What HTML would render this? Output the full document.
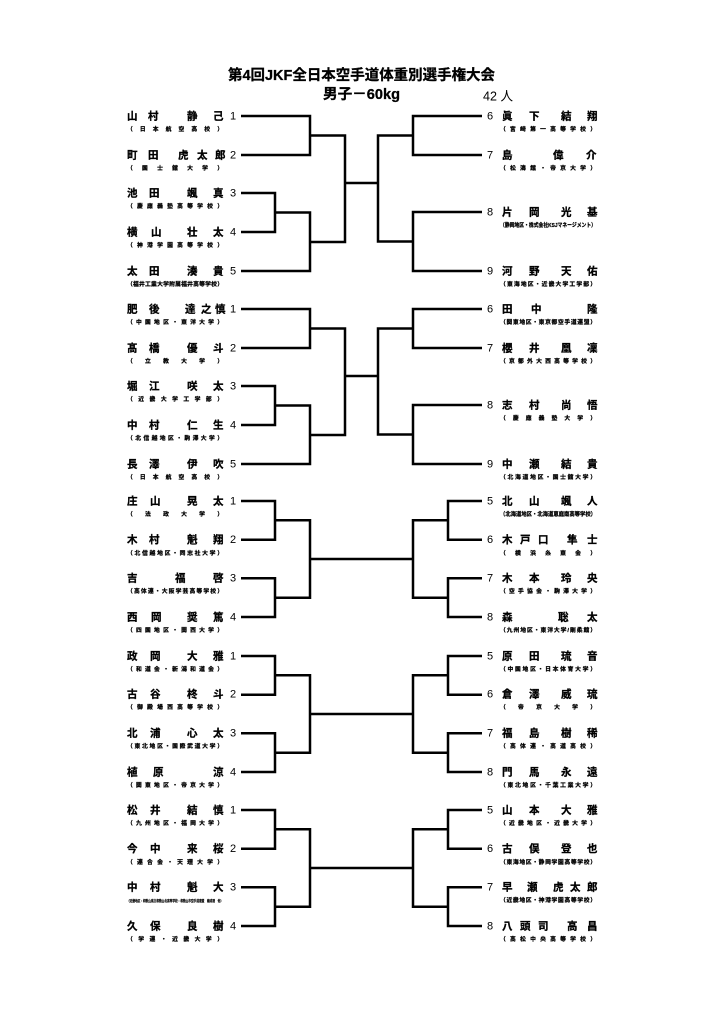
<!DOCTYPE html>
<html lang="ja">
<head>
<meta charset="utf-8">
<style>
html,body{margin:0;padding:0;background:#fff;}
svg{display:block;}
.n{font-family:"Liberation Sans","Noto Sans CJK JP",sans-serif;font-size:10.5px;font-weight:bold;dominant-baseline:central;fill:#000;stroke:#000;stroke-width:0.3;}
.d{font-family:"Liberation Sans",sans-serif;font-size:11px;dominant-baseline:central;fill:#000;}
.s{font-family:"Liberation Sans","Noto Sans CJK JP",sans-serif;font-size:5.8px;font-weight:bold;dominant-baseline:central;fill:#000;stroke:#000;stroke-width:0.25;}
.t{font-family:"Liberation Sans","Noto Sans CJK JP",sans-serif;font-weight:bold;dominant-baseline:central;fill:#000;}
.ln polyline,.ln line{fill:none;stroke:#000;stroke-width:2.5;stroke-linejoin:miter;}
</style>
</head>
<body>
<svg width="724" height="1024" viewBox="0 0 724 1024" xmlns="http://www.w3.org/2000/svg">
<rect width="724" height="1024" fill="#fff"/>

<!-- Title -->
<text class="t" x="228" y="76" font-size="14.5" style="stroke:#000;stroke-width:0.3" textLength="267" lengthAdjust="spacingAndGlyphs">第4回JKF全日本空手道体重別選手権大会</text>
<text class="t" x="323" y="95" font-size="14.5" style="stroke:#000;stroke-width:0.3" textLength="77" lengthAdjust="spacingAndGlyphs">男子－60kg</text>
<text class="t" x="483" y="96" font-size="13" textLength="30" lengthAdjust="spacingAndGlyphs" style="font-weight:normal">42 人</text>

<!-- Bracket lines: sections 1 & 2 (5 vs 4) -->
<g class="ln">
  <g>
    <polyline points="241,116 310,116 310,155 241,155"/>
    <polyline points="241,193 275,193 275,232 241,232"/>
    <polyline points="275,212.5 310,212.5 310,271 241,271"/>
    <polyline points="310,135.5 345,135.5 345,242 310,242"/>
    <line x1="345" y1="183" x2="378" y2="183"/>
    <polyline points="482,116 413,116 413,155 482,155"/>
    <polyline points="482,212 413,212 413,271 482,271"/>
    <polyline points="413,135.5 378,135.5 378,241.5 413,241.5"/>
  </g>
  <g transform="translate(0,193)">
    <polyline points="241,116 310,116 310,155 241,155"/>
    <polyline points="241,193 275,193 275,232 241,232"/>
    <polyline points="275,212.5 310,212.5 310,271 241,271"/>
    <polyline points="310,135.5 345,135.5 345,242 310,242"/>
    <line x1="345" y1="183" x2="378" y2="183"/>
    <polyline points="482,116 413,116 413,155 482,155"/>
    <polyline points="482,212 413,212 413,271 482,271"/>
    <polyline points="413,135.5 378,135.5 378,241.5 413,241.5"/>
  </g>
  <!-- sections 3,4,5 (4 vs 4) -->
  <g>
    <polyline points="241,501 275,501 275,539.7 241,539.7"/>
    <polyline points="241,578.3 275,578.3 275,617 241,617"/>
    <polyline points="275,520.3 310,520.3 310,597.7 275,597.7"/>
    <line x1="310" y1="559" x2="413" y2="559"/>
    <polyline points="482,501 448,501 448,539.7 482,539.7"/>
    <polyline points="482,578.3 448,578.3 448,617 482,617"/>
    <polyline points="448,520.3 413,520.3 413,597.7 448,597.7"/>
  </g>
  <g transform="translate(0,155)">
    <polyline points="241,501 275,501 275,539.7 241,539.7"/>
    <polyline points="241,578.3 275,578.3 275,617 241,617"/>
    <polyline points="275,520.3 310,520.3 310,597.7 275,597.7"/>
    <line x1="310" y1="559" x2="413" y2="559"/>
    <polyline points="482,501 448,501 448,539.7 482,539.7"/>
    <polyline points="482,578.3 448,578.3 448,617 482,617"/>
    <polyline points="448,520.3 413,520.3 413,597.7 448,597.7"/>
  </g>
  <g transform="translate(0,309)">
    <polyline points="241,501 275,501 275,539.7 241,539.7"/>
    <polyline points="241,578.3 275,578.3 275,617 241,617"/>
    <polyline points="275,520.3 310,520.3 310,597.7 275,597.7"/>
    <line x1="310" y1="559" x2="413" y2="559"/>
    <polyline points="482,501 448,501 448,539.7 482,539.7"/>
    <polyline points="482,578.3 448,578.3 448,617 482,617"/>
    <polyline points="448,520.3 413,520.3 413,597.7 448,597.7"/>
  </g>
</g>

<!-- ===== Section 1 left ===== -->
<text class="n" x="127 148 187 213" y="116.5">山村静己</text><text class="d" x="230" y="116.5">1</text>
<text class="s" x="127" y="130" textLength="96" lengthAdjust="spacing">（日本航空高校）</text>
<text class="n" x="127 148 178 197 215" y="155.5">町田虎太郎</text><text class="d" x="230" y="155.5">2</text>
<text class="s" x="127" y="169" textLength="96" lengthAdjust="spacing">（国士舘大学）</text>
<text class="n" x="127 149 187 213" y="193.5">池田颯真</text><text class="d" x="230" y="193.5">3</text>
<text class="s" x="127" y="207" textLength="96" lengthAdjust="spacing">（慶應義塾高等学校）</text>
<text class="n" x="127 151 187 213" y="232.5">横山壮太</text><text class="d" x="230" y="232.5">4</text>
<text class="s" x="127" y="246" textLength="96" lengthAdjust="spacing">（神港学園高等学校）</text>
<text class="n" x="127 149 187 213" y="271.5">太田湊貴</text><text class="d" x="230" y="271.5">5</text>
<text class="s" x="127" y="285" textLength="96" lengthAdjust="spacing">（福井工業大学附属福井高等学校）</text>

<!-- Section 1 right -->
<text class="d" x="487" y="116.5">6</text><text class="n" x="502 529 561 587" y="116.5">眞下結翔</text>
<text class="s" x="500" y="130" textLength="96" lengthAdjust="spacing">（宮崎第一高等学校）</text>
<text class="d" x="487" y="155.5">7</text><text class="n" x="502 553 586" y="155.5">島偉介</text>
<text class="s" x="500" y="169" textLength="96" lengthAdjust="spacing">（松濤館・帝京大学）</text>
<text class="d" x="487" y="212.5">8</text><text class="n" x="502 529 561 587" y="212.5">片岡光基</text>
<text class="s" x="500" y="226" textLength="96" lengthAdjust="spacingAndGlyphs">（静岡地区・株式会社KSJマネージメント）</text>
<text class="d" x="487" y="271.5">9</text><text class="n" x="502 529 561 587" y="271.5">河野天佑</text>
<text class="s" x="500" y="285" textLength="96" lengthAdjust="spacing">（東海地区・近畿大学工学部）</text>

<!-- ===== Section 2 left ===== -->
<text class="n" x="127 149 185 201 215" y="309.5">肥後達之慎</text><text class="d" x="230" y="309.5">1</text>
<text class="s" x="127" y="323" textLength="96" lengthAdjust="spacing">（中国地区・東洋大学）</text>
<text class="n" x="127 149 187 213" y="348.5">髙橋優斗</text><text class="d" x="230" y="348.5">2</text>
<text class="s" x="127" y="362" textLength="96" lengthAdjust="spacing">（立教大学）</text>
<text class="n" x="127 149 187 213" y="386.5">堀江咲太</text><text class="d" x="230" y="386.5">3</text>
<text class="s" x="127" y="400" textLength="96" lengthAdjust="spacing">（近畿大学工学部）</text>
<text class="n" x="127 149 187 213" y="425.5">中村仁生</text><text class="d" x="230" y="425.5">4</text>
<text class="s" x="127" y="439" textLength="96" lengthAdjust="spacing">（北信越地区・駒澤大学）</text>
<text class="n" x="127 149 187 213" y="464.5">長澤伊吹</text><text class="d" x="230" y="464.5">5</text>
<text class="s" x="127" y="478" textLength="96" lengthAdjust="spacing">（日本航空高校）</text>

<!-- Section 2 right -->
<text class="d" x="487" y="309.5">6</text><text class="n" x="502 531 587" y="309.5">田中隆</text>
<text class="s" x="500" y="323" textLength="96" lengthAdjust="spacing">（関東地区・東京都空手道連盟）</text>
<text class="d" x="487" y="348.5">7</text><text class="n" x="502 529 561 587" y="348.5">櫻井凰凜</text>
<text class="s" x="500" y="362" textLength="96" lengthAdjust="spacing">（京都外大西高等学校）</text>
<text class="d" x="487" y="405.5">8</text><text class="n" x="502 529 561 587" y="405.5">志村尚悟</text>
<text class="s" x="500" y="419" textLength="96" lengthAdjust="spacing">（慶應義塾大学）</text>
<text class="d" x="487" y="464.5">9</text><text class="n" x="502 529 561 587" y="464.5">中瀬結貴</text>
<text class="s" x="500" y="478" textLength="96" lengthAdjust="spacing">（北海道地区・国士舘大学）</text>

<!-- ===== Section 3 left ===== -->
<text class="n" x="127 150 187 213" y="501.5">庄山晃太</text><text class="d" x="230" y="501.5">1</text>
<text class="s" x="127" y="515" textLength="96" lengthAdjust="spacing">（法政大学）</text>
<text class="n" x="127 149 187 213" y="540">木村魁翔</text><text class="d" x="230" y="540">2</text>
<text class="s" x="127" y="554" textLength="96" lengthAdjust="spacing">（北信越地区・同志社大学）</text>
<text class="n" x="127 175 213" y="578.5">吉福啓</text><text class="d" x="230" y="578.5">3</text>
<text class="s" x="127" y="592" textLength="96" lengthAdjust="spacing">（高体連・大阪学芸高等学校）</text>
<text class="n" x="127 151 187 213" y="617.5">西岡奨篤</text><text class="d" x="230" y="617.5">4</text>
<text class="s" x="127" y="631" textLength="96" lengthAdjust="spacing">（四国地区・関西大学）</text>

<!-- Section 3 right -->
<text class="d" x="487" y="501.5">5</text><text class="n" x="502 529 561 587" y="501.5">北山颯人</text>
<text class="s" x="500" y="515" textLength="96" lengthAdjust="spacingAndGlyphs">（北海道地区・北海道恵庭南高等学校）</text>
<text class="d" x="487" y="540">6</text><text class="n" x="502 520 538 567 587" y="540">木戸口隼士</text>
<text class="s" x="500" y="554" textLength="96" lengthAdjust="spacing">（横浜糸東会）</text>
<text class="d" x="487" y="578.5">7</text><text class="n" x="502 529 561 587" y="578.5">木本玲央</text>
<text class="s" x="500" y="592" textLength="96" lengthAdjust="spacing">（空手協会・駒澤大学）</text>
<text class="d" x="487" y="617.5">8</text><text class="n" x="502 558 587" y="617.5">森聡太</text>
<text class="s" x="500" y="631" textLength="96" lengthAdjust="spacing">（九州地区・東洋大学/剛柔館）</text>

<!-- ===== Section 4 left ===== -->
<text class="n" x="127 150 187 213" y="656.5">政岡大雅</text><text class="d" x="230" y="656.5">1</text>
<text class="s" x="127" y="670" textLength="96" lengthAdjust="spacing">（和道会・新潟和道会）</text>
<text class="n" x="127 150 187 213" y="694.5">古谷柊斗</text><text class="d" x="230" y="694.5">2</text>
<text class="s" x="127" y="708" textLength="96" lengthAdjust="spacing">（御殿場西高等学校）</text>
<text class="n" x="127 150 187 213" y="733.5">北浦心太</text><text class="d" x="230" y="733.5">3</text>
<text class="s" x="127" y="747" textLength="96" lengthAdjust="spacing">（東北地区・国際武道大学）</text>
<text class="n" x="127 153 213" y="772.5">植原涼</text><text class="d" x="230" y="772.5">4</text>
<text class="s" x="127" y="786" textLength="96" lengthAdjust="spacing">（関東地区・帝京大学）</text>

<!-- Section 4 right -->
<text class="d" x="487" y="656.5">5</text><text class="n" x="502 529 561 587" y="656.5">原田琉音</text>
<text class="s" x="500" y="670" textLength="96" lengthAdjust="spacing">（中国地区・日本体育大学）</text>
<text class="d" x="487" y="694.5">6</text><text class="n" x="502 529 561 587" y="694.5">倉澤威琉</text>
<text class="s" x="500" y="708" textLength="96" lengthAdjust="spacing">（帝京大学）</text>
<text class="d" x="487" y="733.5">7</text><text class="n" x="502 529 561 587" y="733.5">福島樹稀</text>
<text class="s" x="500" y="747" textLength="96" lengthAdjust="spacing">（高体連・高道高校）</text>
<text class="d" x="487" y="772.5">8</text><text class="n" x="502 529 561 587" y="772.5">門馬永遠</text>
<text class="s" x="500" y="786" textLength="96" lengthAdjust="spacing">（東北地区・千葉工業大学）</text>

<!-- ===== Section 5 left ===== -->
<text class="n" x="127 150 187 213" y="810.5">松井結慎</text><text class="d" x="230" y="810.5">1</text>
<text class="s" x="127" y="824" textLength="96" lengthAdjust="spacing">（九州地区・福岡大学）</text>
<text class="n" x="127 150 187 213" y="849">今中来桜</text><text class="d" x="230" y="849">2</text>
<text class="s" x="127" y="863" textLength="96" lengthAdjust="spacing">（連合会・天理大学）</text>
<text class="n" x="127 150 187 213" y="887.5">中村魁大</text><text class="d" x="230" y="887.5">3</text>
<text class="s" x="127" y="901" style="font-size:3.5px;stroke-width:0.15" textLength="96" lengthAdjust="spacingAndGlyphs">（近畿地区・和歌山県立和歌山北高等学校・和歌山市空手道連盟　錬成館　他）</text>
<text class="n" x="127 150 187 213" y="926.5">久保良樹</text><text class="d" x="230" y="926.5">4</text>
<text class="s" x="127" y="940" textLength="96" lengthAdjust="spacing">（学連・近畿大学）</text>

<!-- Section 5 right -->
<text class="d" x="487" y="810.5">5</text><text class="n" x="502 529 561 587" y="810.5">山本大雅</text>
<text class="s" x="500" y="824" textLength="96" lengthAdjust="spacing">（近畿地区・近畿大学）</text>
<text class="d" x="487" y="849">6</text><text class="n" x="502 529 561 587" y="849">古俣登也</text>
<text class="s" x="500" y="863" textLength="96" lengthAdjust="spacing">（東海地区・静岡学園高等学校）</text>
<text class="d" x="487" y="887.5">7</text><text class="n" x="502 527 553 570 587" y="887.5">早瀬虎太郎</text>
<text class="s" x="500" y="901" textLength="96" lengthAdjust="spacing">（近畿地区・神港学園高等学校）</text>
<text class="d" x="487" y="926.5">8</text><text class="n" x="502 520 538 567 587" y="926.5">八頭司高昌</text>
<text class="s" x="500" y="940" textLength="96" lengthAdjust="spacing">（高松中央高等学校）</text>

</svg>
</body>
</html>
